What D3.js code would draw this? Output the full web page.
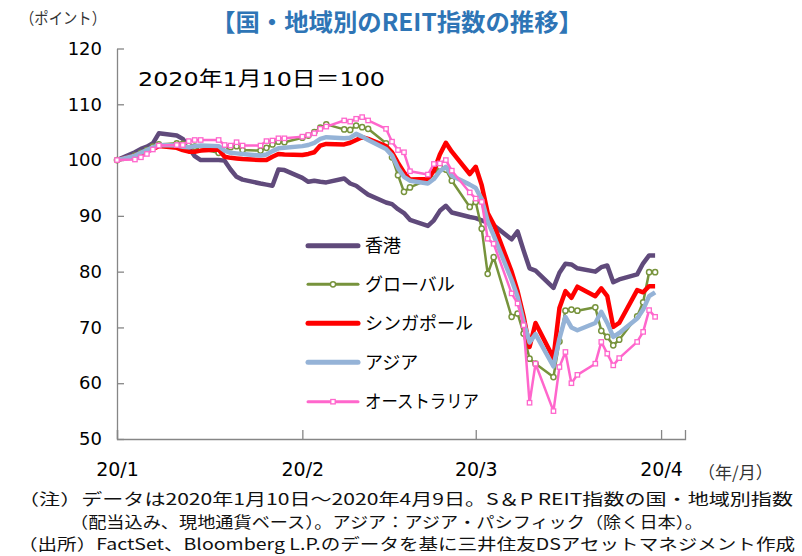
<!DOCTYPE html>
<html><head><meta charset="utf-8">
<script src="https://cdn.jsdelivr.net/npm/d3@7"></script>
<style>
body{margin:0;background:#fff}
svg{display:block}
text{font-family:"DejaVu Sans","Noto Sans CJK JP",sans-serif;fill:#000}
.jp{font-family:"Noto Sans CJK JP","DejaVu Sans",sans-serif}
</style>
</head><body>
<svg id="c" width="802" height="556"></svg>
<script>
const dates = [
"2020-01-10","2020-01-13","2020-01-14","2020-01-15","2020-01-16","2020-01-17",
"2020-01-20","2020-01-21","2020-01-22","2020-01-23","2020-01-24",
"2020-01-27","2020-01-28","2020-01-29","2020-01-30","2020-01-31",
"2020-02-03","2020-02-04","2020-02-05","2020-02-06","2020-02-07",
"2020-02-10","2020-02-11","2020-02-12","2020-02-13","2020-02-14",
"2020-02-17","2020-02-18","2020-02-19","2020-02-20","2020-02-21",
"2020-02-24","2020-02-25","2020-02-26","2020-02-27","2020-02-28",
"2020-03-02","2020-03-03","2020-03-04","2020-03-05","2020-03-06",
"2020-03-09","2020-03-10","2020-03-11","2020-03-12","2020-03-13",
"2020-03-16","2020-03-17","2020-03-18","2020-03-19","2020-03-20",
"2020-03-23","2020-03-24","2020-03-25","2020-03-26","2020-03-27",
"2020-03-30","2020-03-31","2020-04-01","2020-04-02","2020-04-03",
"2020-04-06","2020-04-07","2020-04-08","2020-04-09"];

const hongKong = [
100,101.4,102.0,102.4,103.0,104.8,
104.4,103.8,102.2,100.7,100.0,
100.0,99.9,98.3,97.0,96.5,
95.8,95.6,95.4,98.3,98.2,
96.8,96.1,96.3,96.1,96.0,
96.7,95.8,95.4,94.6,93.8,
92.4,92.1,91.2,90.5,89.3,
88.2,89.2,90.9,91.8,90.6,
89.8,89.6,89.2,88.8,88.3,
85.8,87.2,83.8,80.6,80.2,
77.1,79.8,81.4,81.3,80.6,
80.0,80.8,81.1,78.1,78.6,
79.5,81.5,82.9,82.9];

const globalReit = [
100,100.8,101.3,101.8,102.4,102.8,
103.0,102.9,102.6,102.4,102.0,
101.3,101.9,102.3,102.5,101.8,
101.7,102.2,102.8,103.3,103.2,
104.0,104.4,105.0,105.8,106.4,
105.5,105.4,106.2,105.9,105.6,
103.0,100.5,97.3,94.3,95.1,
96.5,97.5,98.8,98.3,96.3,
91.6,92.5,87.7,79.6,82.6,
71.9,72.5,68.9,64.4,63.5,
61.1,67.5,73.0,73.2,73.0,
73.6,69.4,68.3,66.8,67.8,
72.0,74.5,79.9,79.9];

const singapore = [
100,100.8,101.2,101.6,102.0,102.5,
102.2,101.8,101.5,101.5,101.7,
101.9,100.6,100.4,100.3,100.2,
100.0,100.0,100.6,101.1,101.0,
100.9,101.1,101.4,102.6,102.9,
102.8,103.1,103.6,104.1,103.8,
102.5,101.4,99.5,97.8,96.5,
96.6,98.1,101.0,103.1,101.5,
97.5,98.8,95.5,90.5,88.5,
80.0,76.5,72.0,66.5,70.8,
64.5,73.5,76.5,75.3,77.3,
75.6,77.0,75.6,70.1,70.8,
76.7,76.3,77.4,77.4];

const asia = [
100,100.8,101.3,101.8,102.3,102.7,
102.6,102.4,102.3,102.5,102.6,
102.5,101.7,101.3,101.2,101.1,
100.8,101.0,101.6,102.1,102.2,
102.5,102.7,103.1,103.8,104.1,
103.9,104.0,104.7,104.2,103.6,
102.0,100.8,98.6,97.0,96.3,
95.8,96.6,98.0,98.8,97.2,
95.6,95.0,93.0,89.0,86.5,
78.5,75.5,71.0,67.3,68.8,
63.0,68.0,71.9,70.0,69.5,
70.8,72.8,70.8,68.3,69.0,
71.6,73.2,75.6,76.3];

const australia = [
100,100.1,100.5,101.1,101.9,102.6,
102.7,102.7,103.4,103.6,103.6,
103.6,102.7,102.6,103.2,102.6,
102.6,103.4,103.5,103.9,103.9,
104.2,104.5,104.8,105.6,106.0,
107.1,106.9,107.4,107.7,107.1,
105.6,103.3,101.8,101.4,98.0,
97.4,99.3,99.4,100.0,98.1,
94.2,93.1,92.5,85.9,85.0,
76.1,74.3,70.4,56.5,63.5,
55.0,62.9,65.6,60.0,61.5,
63.5,67.4,65.3,63.2,64.5,
67.4,69.2,73.1,71.9];

const seriesNames = ["香港","グローバル","シンガポール","アジア","オーストラリア"];
const yTicks = [50,60,70,80,90,100,110,120];
const xTickDates = ["2020-01-10","2020-02-10","2020-03-10","2020-04-10"];
const xTickLabels = ["20/1","20/2","20/3","20/4"];

const parse = d3.timeParse("%Y-%m-%d");
const dts = dates.map(parse);
const series = [
  {name:seriesNames[0], values:hongKong,   color:"#604a7b", width:4.5, marker:null},
  {name:seriesNames[1], values:globalReit, color:"#77933c", width:2.5, marker:"circle"},
  {name:seriesNames[2], values:singapore,  color:"#ff0000", width:4.5, marker:null},
  {name:seriesNames[3], values:asia,       color:"#95b3d7", width:4.5, marker:null},
  {name:seriesNames[4], values:australia,  color:"#ff66cc", width:2.5, marker:"square"}
];

const svg = d3.select("#c");
const x = d3.scaleTime().domain([parse("2020-01-10"), parse("2020-04-14")]).range([117, 685]);
const y = d3.scaleLinear().domain([50,120]).range([439,48.5]);
const axisColor = "#868686";

// title & unit
svg.append("text").attr("class","jp").attr("x",397).attr("y",31).attr("text-anchor","middle")
  .attr("textLength",372).attr("lengthAdjust","spacingAndGlyphs")
  .style("font-size","24px").style("font-weight","bold").style("fill","#2e75b6")
  .text("【国・地域別のREIT指数の推移】");
svg.append("text").attr("class","jp").attr("x",20).attr("y",24)
  .attr("textLength",86).attr("lengthAdjust","spacingAndGlyphs")
  .style("font-size","16px").style("fill","#333").text("（ポイント）");

// y axis
const yAxis = svg.append("g").attr("transform","translate(117,0)")
  .call(d3.axisLeft(y).tickValues(yTicks).tickFormat(d3.format("d")).tickSizeInner(-7).tickSizeOuter(0).tickPadding(15));
yAxis.selectAll("text").style("font-size","18px");
// x axis
const xAxis = svg.append("g").attr("transform","translate(0,439)")
  .call(d3.axisBottom(x).tickValues(xTickDates.map(parse)).tickFormat((d,i)=>xTickLabels[i]).tickSizeInner(-9).tickSizeOuter(-9).tickPadding(24));
xAxis.selectAll("text").style("font-size","19px");
svg.selectAll(".domain, .tick line").attr("stroke",axisColor).attr("stroke-width",1.3);

svg.append("text").attr("class","jp").attr("x",698).attr("y",479)
  .style("font-size","17px").style("fill","#333").text("（年/月）");

svg.append("text").attr("x",138).attr("y",86).attr("textLength",247).attr("lengthAdjust","spacingAndGlyphs")
  .style("font-size","20px").text("2020年1月10日＝100");

// lines
const line = d3.line().x((d,i)=>x(dts[i])).y(d=>y(d));
series.forEach(s=>{
  const g = svg.append("g");
  g.append("path").datum(s.values).attr("d",line).attr("fill","none")
    .attr("stroke",s.color).attr("stroke-width",s.width).attr("stroke-linejoin","round");
  if(s.marker==="circle"){
    g.selectAll("circle").data(s.values).join("circle")
      .attr("cx",(d,i)=>x(dts[i])).attr("cy",d=>y(d)).attr("r",2.6)
      .attr("fill","#fff").attr("stroke",s.color).attr("stroke-width",1.5);
  } else if(s.marker==="square"){
    g.selectAll("rect").data(s.values).join("rect")
      .attr("x",(d,i)=>x(dts[i])-2.2).attr("y",d=>y(d)-2.2).attr("width",4.4).attr("height",4.4)
      .attr("fill","#fff").attr("stroke",s.color).attr("stroke-width",1.3);
  }
});

// legend
const legY = [245.7,284.3,323.3,362.3,401.7];
series.forEach((s,i)=>{
  const g = svg.append("g");
  g.append("line").attr("x1",308).attr("x2",358).attr("y1",legY[i]).attr("y2",legY[i])
    .attr("stroke",s.color).attr("stroke-width",s.width+0.5).attr("stroke-linecap","round");
  if(s.marker==="circle") g.append("circle").attr("cx",333).attr("cy",legY[i]).attr("r",2.6)
    .attr("fill","#fff").attr("stroke",s.color).attr("stroke-width",1.5);
  if(s.marker==="square") g.append("rect").attr("x",330.8).attr("y",legY[i]-2.2).attr("width",4.4).attr("height",4.4)
    .attr("fill","#fff").attr("stroke",s.color).attr("stroke-width",1.3);
  const t = g.append("text").attr("class","jp").attr("x",365).attr("y",legY[i]).attr("dy","0.35em")
    .style("font-size","18px").text(s.name);
  if(i===4) t.attr("textLength",114).attr("lengthAdjust","spacingAndGlyphs");
});

// footnotes
const notes = [
 {t:"（注）データは2020年1月10日～2020年4月9日。S＆P REIT指数の国・地域別指数", x:18, y:505, w:775},
 {t:"（配当込み、現地通貨ベース）。アジア：アジア・パシフィック（除く日本）。", x:70, y:527.5, w:633},
 {t:"（出所）FactSet、Bloomberg L.P.のデータを基に三井住友DSアセットマネジメント作成", x:18, y:550, w:777}
];
notes.forEach(n=>{
  svg.append("text").attr("class","jp").attr("x",n.x).attr("y",n.y)
    .attr("textLength",n.w).attr("lengthAdjust","spacingAndGlyphs")
    .style("font-size","15.5px").style("fill","#111").text(n.t);
});
</script>
</body></html>
